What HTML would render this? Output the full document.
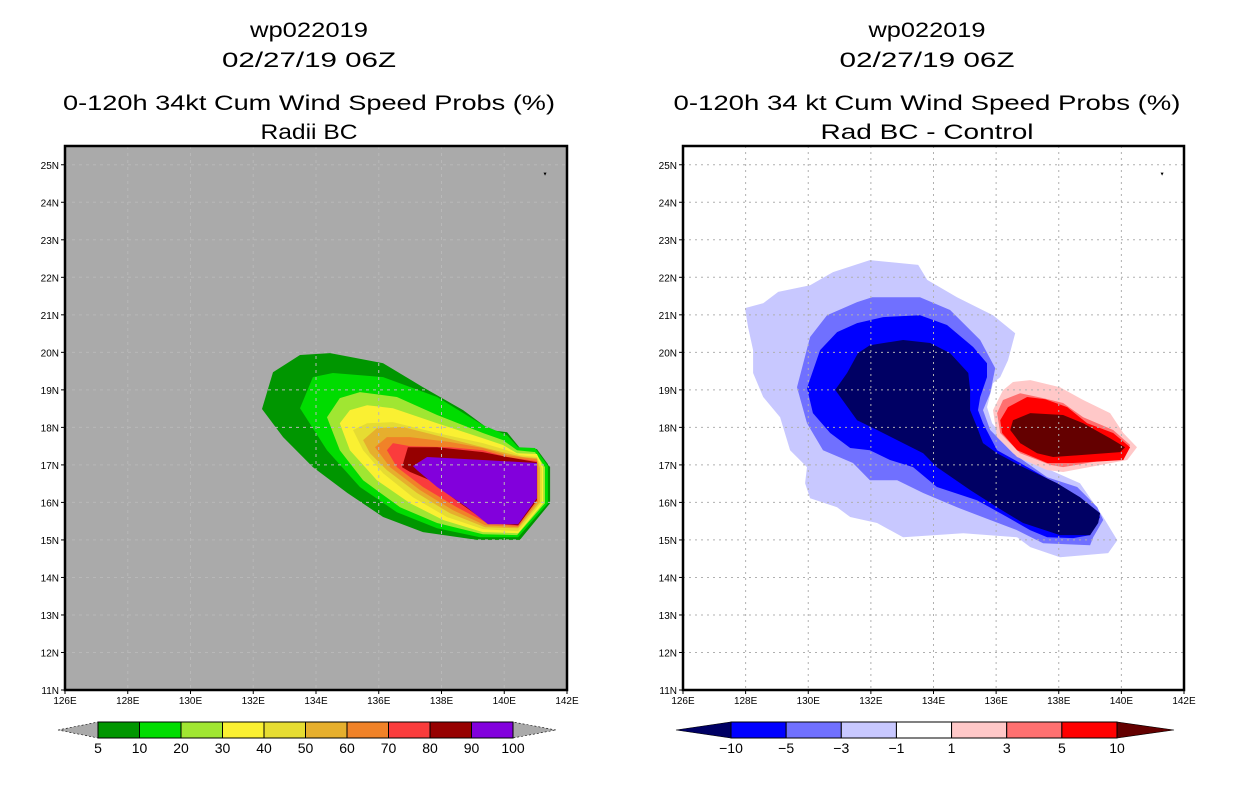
<!DOCTYPE html>
<html><head><meta charset="utf-8"><style>
html,body{margin:0;padding:0;background:#fff;}
svg{display:block;font-family:"Liberation Sans",sans-serif;}
</style></head><body>
<svg id="c" width="1236" height="800" viewBox="0 0 1236 800"></svg>
<script>
const NS="http://www.w3.org/2000/svg";
const svg=document.getElementById('c');
const lonTicks=[126,128,130,132,134,136,138,140,142];
const latTicks=[11,12,13,14,15,16,17,18,19,20,21,22,23,24,25];
const leftLevels=["5","10","20","30","40","50","60","70","80","90","100"];
const leftColors=["#009600","#00dc00","#a0e632","#faf032","#e6dc32","#e6af2d","#f08228","#fa3c3c","#960000","#8200dc"];
const rightLevels=["-10","-5","-3","-1","1","3","5","10"];
const rightColors=["#000064","#0000ff","#7070ff","#c8c8ff","#ffffff","#ffc8c8","#ff7070","#ff0000","#640000"];
const L5=[[132.28,18.49],[132.63,19.47],[133.49,19.93],[134.45,19.98],[136.14,19.71],[137.41,19.07],[138.69,18.46],[139.55,17.93],[140.09,17.87],[140.5,17.45],[141.04,17.42],[141.46,16.94],[141.46,15.98],[140.5,15.0],[139.13,15.0],[137.41,15.21],[136.14,15.61],[135.0,16.25],[133.9,16.94],[132.95,17.74]];
const L10=[[133.49,18.51],[133.9,19.34],[134.54,19.45],[136.14,19.34],[137.86,18.81],[139.32,18.06],[140.09,17.79],[140.44,17.47],[140.98,17.45],[141.39,16.97],[141.39,15.98],[140.44,15.07],[139.23,15.07],[137.86,15.31],[136.58,15.74],[135.4,16.41],[134.35,17.39]];
const L20=[[134.35,18.27],[134.76,18.78],[135.4,18.94],[136.58,18.81],[137.86,18.33],[139.32,17.85],[139.96,17.66],[140.41,17.39],[140.98,17.34],[141.3,16.94],[141.3,15.98],[140.41,15.13],[139.32,15.15],[137.86,15.45],[136.68,15.87],[135.5,16.59],[134.76,17.39]];
const L30=[[134.76,18.11],[135.08,18.46],[135.63,18.59],[136.45,18.51],[137.86,18.11],[139.32,17.71],[139.96,17.53],[140.41,17.31],[141.04,17.29],[141.24,16.94],[141.24,15.98],[140.44,15.18],[139.32,15.21],[138.05,15.53],[137.0,15.98],[135.94,16.59],[135.08,17.39]];
const L40=[[135.18,17.93],[135.63,18.11],[136.45,18.14],[137.86,17.85],[139.32,17.58],[140.09,17.39],[140.5,17.26],[141.04,17.21],[141.2,16.91],[141.2,16.01],[140.44,15.23],[139.32,15.29],[138.17,15.61],[137.09,16.14],[136.14,16.78],[135.5,17.39]];
const L50=[[135.5,17.66],[135.94,17.98],[136.77,18.01],[138.05,17.74],[139.32,17.47],[140.09,17.31],[140.6,17.21],[141.04,17.18],[141.14,16.91],[141.14,16.01],[140.44,15.31],[139.39,15.34],[138.27,15.71],[137.22,16.25],[136.26,16.86],[135.72,17.31]];
const L60=[[135.88,17.47],[136.26,17.74],[136.99,17.74],[138.27,17.61],[139.32,17.45],[140.09,17.26],[141.04,17.15],[141.08,16.91],[141.08,16.03],[140.44,15.34],[139.39,15.39],[138.37,15.79],[137.31,16.33],[136.36,16.94]];
const L70=[[136.26,17.39],[136.45,17.58],[136.99,17.5],[138.27,17.47],[139.32,17.39],[140.09,17.21],[141.04,17.1],[141.04,16.91],[141.04,16.06],[140.44,15.37],[139.45,15.45],[138.49,15.87],[137.41,16.41],[136.58,16.94]];
const L80=[[136.74,16.94],[136.93,17.47],[137.86,17.47],[139.32,17.34],[140.09,17.21],[141.04,17.07],[141.04,16.06],[140.44,15.39],[139.48,15.45],[138.59,15.98],[137.63,16.59],[137.0,16.81]];
const L90=[[137.09,16.97],[137.54,17.21],[139.32,17.13],[141.04,17.05],[141.04,16.11],[140.44,15.42],[139.48,15.42],[138.81,15.87],[137.86,16.41],[137.22,16.86]];
const Rm1=[[127.98,21.18],[128.56,21.31],[129.04,21.61],[130.06,21.79],[130.79,22.14],[131.97,22.46],[133.51,22.33],[133.8,21.93],[134.75,21.47],[135.9,20.99],[136.61,20.51],[136.38,19.79],[136.13,19.34],[135.9,19.18],[135.71,18.54],[135.87,18.11],[136.67,17.31],[137.73,16.86],[138.68,16.51],[139.42,15.61],[139.87,14.99],[139.58,14.65],[138.04,14.54],[137.09,14.81],[136.67,15.07],[134.95,15.18],[133.03,15.07],[132.2,15.45],[131.34,15.61],[130.92,15.87],[130.06,16.11],[129.9,16.51],[129.96,16.94],[129.42,17.39],[129.1,18.27],[128.56,18.81],[128.24,19.45],[128.24,20.06],[128.08,20.67]];
const Rm3=[[129.64,19.07],[130.06,20.41],[130.6,20.99],[131.56,21.34],[132.04,21.47],[133.57,21.47],[134.53,21.13],[135.49,20.33],[135.97,19.58],[135.81,18.91],[135.58,18.46],[135.81,17.93],[136.54,17.31],[137.63,16.67],[138.59,16.41],[139.23,15.87],[139.42,15.53],[139.1,15.07],[139.0,14.86],[137.5,14.91],[136.67,15.26],[135.81,15.53],[134.75,15.87],[133.67,16.25],[132.84,16.59],[131.97,16.59],[131.43,17.05],[130.47,17.39],[129.96,18.11]];
const Rm5=[[129.96,19.05],[130.38,20.06],[130.92,20.54],[131.56,20.78],[132.39,20.94],[133.57,20.99],[134.43,20.73],[135.27,20.14],[135.71,19.71],[135.71,19.34],[135.49,18.81],[135.42,18.46],[135.58,18.11],[136.03,17.39],[136.77,17.05],[137.73,16.59],[138.68,16.14],[139.16,15.79],[139.32,15.61],[139.0,15.13],[138.46,15.05],[137.63,15.07],[137.09,15.26],[136.35,15.61],[135.39,16.06],[134.11,16.41],[133.35,16.94],[132.61,17.13],[131.97,17.39],[131.34,17.45],[130.7,17.85],[130.15,18.38]];
const Rm10=[[130.86,19.0],[131.24,19.45],[131.59,19.98],[131.97,20.19],[133.03,20.33],[133.89,20.25],[134.53,19.98],[135.11,19.45],[135.17,19.0],[135.17,18.46],[135.39,18.01],[135.58,17.58],[136.03,17.31],[136.86,16.94],[137.95,16.51],[138.68,16.14],[139.32,15.71],[139.26,15.45],[139.0,15.13],[138.04,15.13],[136.86,15.45],[136.03,15.87],[135.17,16.33],[134.11,16.94],[133.67,17.31],[133.03,17.58],[132.2,17.93],[131.56,18.19]];
const Rp1=[[135.9,18.46],[136.22,18.99],[136.54,19.21],[137.09,19.26],[138.04,19.07],[138.78,18.73],[139.64,18.38],[140.06,17.85],[140.5,17.47],[140.19,17.13],[138.14,16.81],[137.63,16.86],[136.67,17.21],[136.03,17.74]];
const Rp3=[[136.03,18.38],[136.22,18.73],[136.77,18.91],[137.5,18.78],[138.14,18.65],[138.78,18.27],[139.74,17.93],[140.28,17.53],[140.06,17.21],[138.14,16.94],[137.73,17.0],[136.77,17.31],[136.13,17.85]];
const Rp5=[[136.13,18.19],[136.38,18.54],[136.99,18.81],[137.57,18.75],[138.27,18.54],[138.91,18.11],[139.74,17.85],[140.28,17.47],[140.06,17.13],[138.46,17.05],[137.63,17.05],[136.67,17.39],[136.19,17.85]];
const Rp10=[[136.45,17.93],[136.54,18.19],[137.09,18.38],[138.14,18.33],[138.78,18.11],[139.64,17.71],[140.12,17.47],[139.96,17.34],[138.68,17.26],[137.82,17.21],[137.31,17.31],[136.77,17.58]];
const marker=[141.3,24.75];

function el(tag,attrs,parent){const e=document.createElementNS(NS,tag);for(const k in attrs)e.setAttribute(k,attrs[k]);(parent||svg).appendChild(e);return e;}
function txt(x,y,s,size,anchor,parent){const t=el('text',{x:x,y:y,'font-size':size,'text-anchor':anchor||'middle',fill:'#000'},parent);t.textContent=s;return t;}

function panel(name,x0,w,bg,grid,dash,layers,titles,cx,widths){
  const top=146,bot=690;
  const sx=lon=>x0+(lon-126)*w/16;
  const sy=lat=>top+(25.5-lat)*(bot-top)/14.5;
  const g=el('g',{});
  
  
  el('rect',{x:x0,y:top,width:w,height:bot-top,fill:bg},g);
  layers.forEach((ly,i)=>{
    const p=el('polygon',{points:ly.pts.map(q=>sx(q[0]).toFixed(1)+','+sy(q[1]).toFixed(1)).join(' '),fill:ly.c},g);
    
    
  });
  lonTicks.slice(1,-1).forEach(lon=>{el('line',{x1:sx(lon),x2:sx(lon),y1:top,y2:bot,stroke:grid,'stroke-width':1,'stroke-dasharray':dash},g);});
  latTicks.forEach(lat=>{el('line',{x1:x0,x2:x0+w,y1:sy(lat),y2:sy(lat),stroke:grid,'stroke-width':1,'stroke-dasharray':dash},g);});
  el('polygon',{points:`${sx(marker[0])-1.5},${sy(marker[1])-1.5} ${sx(marker[0])+1.5},${sy(marker[1])-1.5} ${sx(marker[0])},${sy(marker[1])+1.5}`,fill:'#000'},g);
  const fr=el('rect',{x:x0,y:top,width:w,height:bot-top,fill:'none',stroke:'#000','stroke-width':2.5},g);
  
  
  latTicks.forEach(lat=>{
    el('line',{x1:x0-4,x2:x0,y1:sy(lat),y2:sy(lat),stroke:'#000'},g);
    const t=txt(x0-6,sy(lat)+4,lat+'N',10,'end',g);
    
    
  });
  lonTicks.forEach(lon=>{
    el('line',{x1:sx(lon),x2:sx(lon),y1:bot,y2:bot+4,stroke:'#000'},g);
    const t=txt(sx(lon),bot+14,lon+'E',10,'middle',g);
    
    
  });
  const ys=[37,67,110,139];
  titles.forEach((s,i)=>{const t=txt(cx,ys[i],s,21,'middle',g);t.setAttribute('textLength',widths[i]);t.setAttribute('lengthAdjust','spacingAndGlyphs');});
}

function colorbar(name,bx0,bx1,tipL,tipR,colors,labels,endL,endR){
  const g=el('g',{});
  
  
  const y0=722,y1=738,ym=730;
  el('polygon',{points:`${tipL},${ym} ${bx0},${y0} ${bx0},${y1}`,fill:endL,stroke:'#000','stroke-width':0.6,'stroke-dasharray':endL=='#aaaaaa'?'2,2':''},g);
  el('polygon',{points:`${tipR},${ym} ${bx1},${y0} ${bx1},${y1}`,fill:endR,stroke:'#000','stroke-width':0.6,'stroke-dasharray':endR=='#aaaaaa'?'2,2':''},g);
  const n=colors.length, bw=(bx1-bx0)/n;
  colors.forEach((c,i)=>{const r=el('rect',{x:bx0+i*bw,y:y0,width:bw,height:y1-y0,fill:c,stroke:'#000','stroke-width':1},g);});
  labels.forEach((s,i)=>{const t=txt(bx0+i*bw,753,s.replace('-','\u2212'),14,'middle',g);});
}

const lp=[L5,L10,L20,L30,L40,L50,L60,L70,L80,L90];
panel('left',65,502,'#aaaaaa','#b8b8b8','3,4',lp.map((p,i)=>({pts:p,c:leftColors[i],n:leftLevels[i]})),['wp022019','02/27/19 06Z','0-120h 34kt Cum Wind Speed Probs (%)','Radii BC'],309,[118,174,492,97]);
const rp=[[Rm1,3],[Rm3,2],[Rm5,1],[Rm10,0],[Rp1,5],[Rp3,6],[Rp5,7],[Rp10,8]];
panel('right',683,501,'#ffffff','#b0b0b0','2,4',rp.map(a=>({pts:a[0],c:rightColors[a[1]],n:'c'+a[1]})),['wp022019','02/27/19 06Z','0-120h 34 kt Cum Wind Speed Probs (%)','Rad BC - Control'],927,[117,175,507,213]);
colorbar('left',98,513,58,556,leftColors,leftLevels,'#aaaaaa','#aaaaaa');
colorbar('right',731,1117,676,1174,rightColors.slice(1,8),rightLevels,rightColors[0],rightColors[8]);
</script>
</body></html>
